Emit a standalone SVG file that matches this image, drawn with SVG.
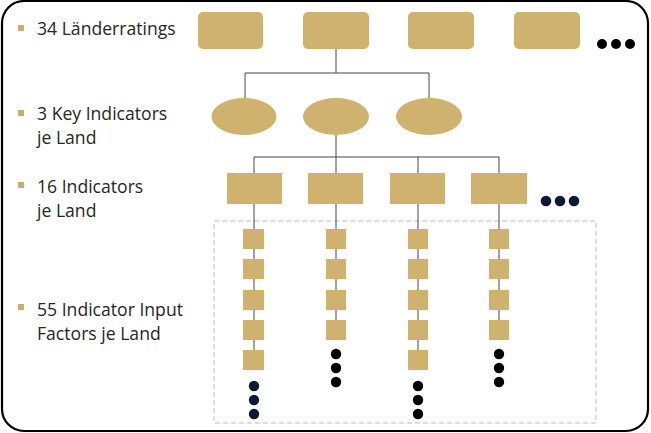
<svg xmlns="http://www.w3.org/2000/svg" width="651" height="433" viewBox="0 0 651 433">
<defs>
<style>
.g{fill:#CFB26E}
.lbl{font-family:"Open Sans","Noto Sans",sans-serif;font-size:17.6px;fill:#262626}
.b{fill:#C8AE6C}
.c{stroke:#444;stroke-width:1;fill:none}
.nd{fill:#0B1B36}
.bk{fill:#000}
</style>
</defs>
<rect x="0" y="0" width="651" height="433" fill="#fff"/>
<rect x="2" y="1" width="646" height="430" rx="22" fill="none" stroke="#000" stroke-width="2.2"/>
<g id="labels">
<rect class="b" x="18" y="25" width="6" height="6"/>
<text class="lbl" x="37" y="35">34 Länderratings</text>
<rect class="b" x="18" y="110" width="6" height="6"/>
<text class="lbl" x="37" y="120">3 Key Indicators</text>
<text class="lbl" x="37" y="144">je Land</text>
<rect class="b" x="18" y="182" width="6" height="6"/>
<text class="lbl" x="37" y="193">16 Indicators</text>
<text class="lbl" x="37" y="217">je Land</text>
<rect class="b" x="18" y="304" width="6" height="6"/>
<text class="lbl" x="37" y="316">55 Indicator Input</text>
<text class="lbl" x="37" y="340">Factors je Land</text>
</g>
<rect x="214" y="221" width="382" height="202" fill="none" stroke="#BBB" stroke-width="1" stroke-dasharray="5,3"/>
<g id="connectors" class="c">
<path d="M336 49V73M245 73H429M245 73V98M429 73V98"/>
<path d="M336 135V157M254 157H499M254 157V173M336 157V173M418 157V173M499 157V173"/>
<path d="M254 204V350M336 204V320M418 204V350M499 204V320"/>
</g>
<g id="ratings">
<rect class="g" x="198" y="12" width="65" height="37" rx="5"/>
<rect class="g" x="303" y="12" width="66" height="37" rx="5"/>
<rect class="g" x="408" y="12" width="66" height="37" rx="5"/>
<rect class="g" x="514" y="12" width="66" height="37" rx="5"/>
<circle class="bk" cx="602" cy="44" r="5"/><circle class="bk" cx="616" cy="44" r="5"/><circle class="bk" cx="630" cy="44" r="5"/>
</g>
<g id="key-indicators">
<ellipse class="g" cx="244" cy="116.5" rx="32.5" ry="18.5"/>
<ellipse class="g" cx="336" cy="116.5" rx="33" ry="18.5"/>
<ellipse class="g" cx="429" cy="116.5" rx="33" ry="18.5"/>
</g>
<g id="indicators">
<rect class="g" x="227" y="173" width="55" height="31"/>
<rect class="g" x="308" y="173" width="55" height="31"/>
<rect class="g" x="390" y="173" width="55" height="31"/>
<rect class="g" x="471" y="173" width="56" height="31"/>
<circle class="nd" cx="546" cy="201" r="5.3"/><circle class="nd" cx="560" cy="201" r="5.3"/><circle class="nd" cx="574" cy="201" r="5.3"/>
</g>
<g id="input-col1">
<rect class="g" x="243" y="229" width="21" height="20"/>
<rect class="g" x="243" y="259" width="21" height="20"/>
<rect class="g" x="243" y="290" width="21" height="20"/>
<rect class="g" x="243" y="320" width="21" height="20"/>
<rect class="g" x="243" y="350" width="21" height="20"/>
<circle class="nd" cx="254" cy="386" r="5.2"/><circle class="nd" cx="254" cy="400" r="5.2"/><circle class="nd" cx="254" cy="414" r="5.2"/>
</g>
<g id="input-col2">
<rect class="g" x="326" y="229" width="20" height="20"/>
<rect class="g" x="326" y="259" width="20" height="20"/>
<rect class="g" x="326" y="290" width="20" height="20"/>
<rect class="g" x="326" y="320" width="20" height="20"/>
<circle class="bk" cx="336" cy="354" r="5.2"/><circle class="bk" cx="336" cy="368" r="5.2"/><circle class="bk" cx="336" cy="382" r="5.2"/>
</g>
<g id="input-col3">
<rect class="g" x="408" y="229" width="20" height="20"/>
<rect class="g" x="408" y="259" width="20" height="20"/>
<rect class="g" x="408" y="290" width="20" height="20"/>
<rect class="g" x="408" y="320" width="20" height="20"/>
<rect class="g" x="408" y="350" width="20" height="20"/>
<circle class="bk" cx="418" cy="386" r="5.2"/><circle class="bk" cx="418" cy="400" r="5.2"/><circle class="bk" cx="418" cy="414" r="5.2"/>
</g>
<g id="input-col4">
<rect class="g" x="489" y="229" width="20" height="20"/>
<rect class="g" x="489" y="259" width="20" height="20"/>
<rect class="g" x="489" y="290" width="20" height="20"/>
<rect class="g" x="489" y="320" width="20" height="20"/>
<circle class="bk" cx="499" cy="354" r="5.2"/><circle class="bk" cx="499" cy="368" r="5.2"/><circle class="bk" cx="499" cy="382" r="5.2"/>
</g>
</svg>
